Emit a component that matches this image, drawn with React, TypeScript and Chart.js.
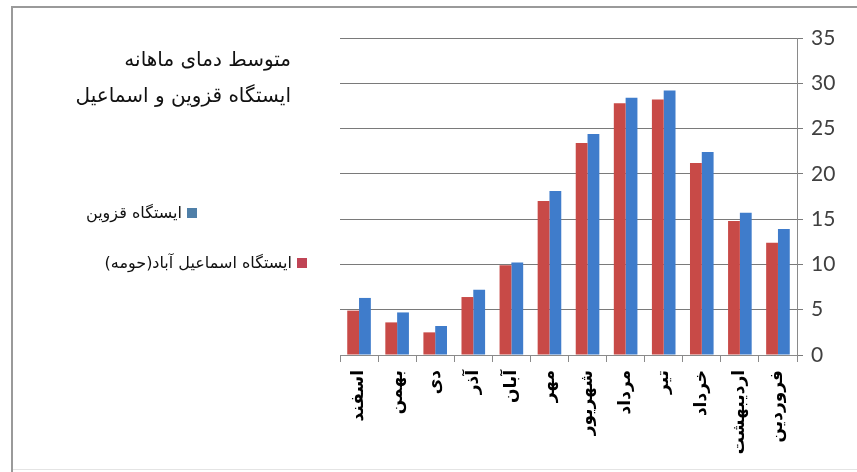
import React, { useEffect, useRef } from "react";
import { Chart, registerables } from "chart.js";

Chart.register(...registerables);

const months = ["اسفند", "بهمن", "دی", "آذر", "آبان", "مهر", "شهریور", "مرداد", "تیر", "خرداد", "اردیبهشت", "فروردین"];
const esmaeilAbad = [4.9, 3.6, 2.5, 6.4, 9.9, 17.0, 23.4, 27.8, 28.2, 21.2, 14.8, 12.4];
const qazvin = [6.3, 4.7, 3.2, 7.2, 10.2, 18.1, 24.4, 28.4, 29.2, 22.4, 15.7, 13.9];
const seriesNames = ["ایستگاه اسماعیل آباد(حومه)", "ایستگاه قزوین"];
const titleLines = ["متوسط دمای ماهانه", "ایستگاه قزوین و اسماعیل"];

const RED = "#C84A47";
const BLUE = "#3F7CCB";
const persianFont = "'DejaVu Sans', sans-serif";

export default function App() {
  const ref = useRef<HTMLCanvasElement | null>(null);

  useEffect(() => {
    document.body.style.margin = "0";
    const canvas = ref.current;
    if (!canvas) return;
    const chart = new Chart(canvas, {
      type: "bar",
      data: {
        labels: months,
        datasets: [
          { label: seriesNames[0], data: esmaeilAbad, backgroundColor: RED, borderWidth: 0 },
          { label: seriesNames[1], data: qazvin, backgroundColor: BLUE, borderWidth: 0 },
        ],
      },
      options: {
        responsive: false,
        animation: false,
        devicePixelRatio: 1,
        layout: { padding: { left: 340, top: 38, right: 0, bottom: 0 } },
        plugins: { legend: { display: false }, tooltip: { enabled: false }, title: { display: false } },
        datasets: { bar: { categoryPercentage: 0.62, barPercentage: 1.0 } },
        scales: {
          x: {
            type: "category",
            position: "bottom",
            offset: true,
            grid: { drawOnChartArea: false, drawTicks: true, tickLength: 7, color: "#8a8a8a", offset: true },
            border: { display: true, color: "#8a8a8a" },
            ticks: {
              minRotation: 90,
              maxRotation: 90,
              autoSkip: false,
              padding: 8,
              color: "#000",
              font: { family: persianFont, size: 17, weight: "bold" },
            },
            afterFit: (s: any) => { s.height = 117; },
          },
          y: {
            position: "right",
            min: 0,
            max: 35,
            ticks: {
              stepSize: 5,
              padding: 8,
              color: "#404040",
              font: { family: "Lato, 'Open Sans', sans-serif", size: 21 },
            },
            grid: { color: "#7a7a7a", tickLength: 6, lineWidth: 1 },
            border: { display: true, color: "#8a8a8a" },
            afterFit: (s: any) => { s.width = 60; },
          },
        },
      },
    });
    return () => chart.destroy();
  }, []);

  const textStyle: React.CSSProperties = {
    position: "absolute",
    direction: "rtl",
    fontFamily: persianFont,
    color: "#111",
    whiteSpace: "nowrap",
    lineHeight: 1,
  };

  return (
    <div style={{ position: "relative", width: 857, height: 472, background: "#fff", overflow: "hidden" }}>
      <canvas ref={ref} width={857} height={472} style={{ position: "absolute", left: 0, top: 0, width: 857, height: 472 }} />
      <div style={{ position: "absolute", left: 11, top: 6, width: 846, height: 2, background: "#9a9a9a" }} />
      <div style={{ position: "absolute", left: 11, top: 6, width: 2, height: 466, background: "#9a9a9a" }} />
      <div style={{ position: "absolute", left: 13, top: 469, width: 844, height: 1, background: "#e4e4e4" }} />
      <div style={{ ...textStyle, right: 857 - 291, top: 49, fontSize: 20 }}>{titleLines[0]}</div>
      <div style={{ ...textStyle, right: 857 - 291, top: 85, fontSize: 20 }}>{titleLines[1]}</div>
      <div style={{ ...textStyle, right: 857 - 197, top: 205, fontSize: 16, display: "flex", alignItems: "center", gap: 5 }}>
        <span style={{ display: "inline-block", width: 10, height: 10, background: "#4F7FA8" }} />
        <span>{seriesNames[1]}</span>
      </div>
      <div style={{ ...textStyle, right: 857 - 307, top: 255, fontSize: 16, display: "flex", alignItems: "center", gap: 5 }}>
        <span style={{ display: "inline-block", width: 10, height: 10, background: "#C04455" }} />
        <span>{seriesNames[0]}</span>
      </div>
    </div>
  );
}
